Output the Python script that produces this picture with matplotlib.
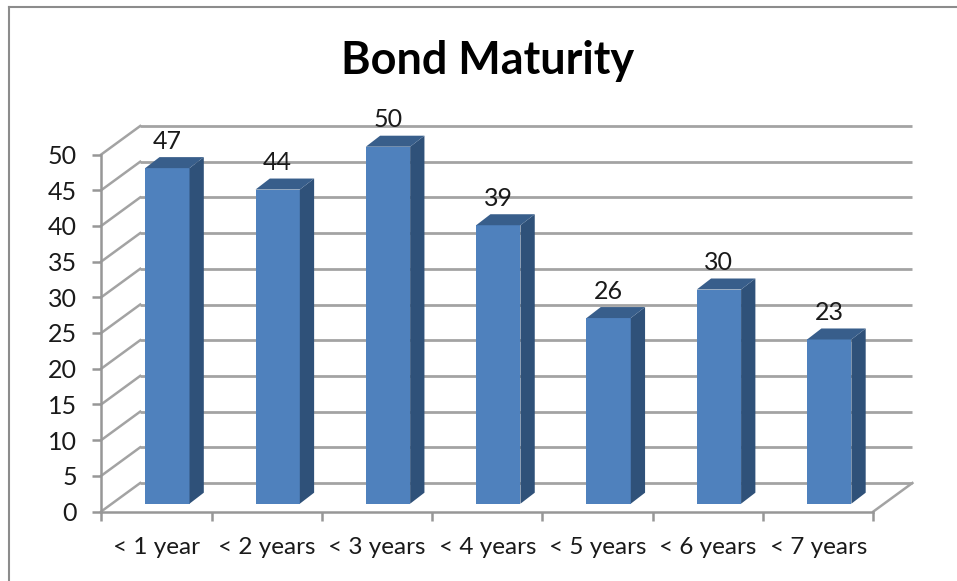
import matplotlib
matplotlib.use("Agg")
import matplotlib.pyplot as plt
from matplotlib.lines import Line2D
from matplotlib.patches import Polygon
import numpy as np

plt.rcParams['font.family'] = ['Lato', 'DejaVu Sans']

# Chart data
categories = ["< 1 year", "< 2 years", "< 3 years", "< 4 years",
              "< 5 years", "< 6 years", "< 7 years"]
values = [47, 44, 50, 39, 26, 30, 23]
y_ticks = list(range(0, 55, 5))
title = "Bond Maturity"

W, H = 957, 581
FRONT = "#4F81BD"
SIDE = "#2F5179"
TOP = "#385E8B"
GRID = "#A3A3A3"
AXIS = "#979797"
TEXT = "#1A1A1A"

fig = plt.figure(figsize=(W / 100, H / 100), dpi=100, facecolor="white")

# Axes span the front plane of the 3-D box
left, right, bottom, top = 101.2, 873.4, 511.5, 154.5
ax = fig.add_axes([left / W, 1 - bottom / H, (right - left) / W, (bottom - top) / H])
ax.set_xlim(0, len(categories))
ax.set_ylim(0, 50)
ax.patch.set_visible(False)

# Pixel-to-data scale factors for the oblique projection
px_x = len(categories) / (right - left)
px_y = 50 / (bottom - top)
wall_dx, wall_dy = 39 * px_x, 28.5 * px_y

# Back wall gridlines and the slanted connectors on the side wall
for t in y_ticks:
    ax.plot([wall_dx, len(categories) + wall_dx], [t + wall_dy] * 2,
            color=GRID, lw=2.0, clip_on=False, zorder=1, solid_capstyle="butt")
    ax.plot([0, wall_dx], [t, t + wall_dy],
            color=GRID, lw=1.8, clip_on=False, zorder=1)

# Right edge of the floor
ax.plot([len(categories), len(categories) + wall_dx], [0, wall_dy],
        color=GRID, lw=1.8, clip_on=False, zorder=1)

# Bars: front face, side face and top face, raised off the floor by the depth offset
bar_w = 44.3 * px_x
bar_dx, bar_dy = 14.3 * px_x, 11 * px_y
floor_x = 11 * px_x
floor_y = 7.8 * px_y
for i, v in enumerate(values):
    x0 = i + 0.5 + floor_x - bar_w / 2
    x1 = x0 + bar_w
    y0 = floor_y
    y1 = v + floor_y
    ax.bar(x0, v, width=bar_w, bottom=y0, align="edge",
           color=FRONT, linewidth=0, zorder=3, clip_on=False)
    ax.add_patch(Polygon([(x1, y0), (x1 + bar_dx, y0 + bar_dy),
                          (x1 + bar_dx, y1 + bar_dy), (x1, y1)],
                         closed=True, fc=SIDE, ec="none", zorder=3, clip_on=False))
    ax.add_patch(Polygon([(x0, y1), (x1, y1), (x1 + bar_dx, y1 + bar_dy),
                          (x0 + bar_dx, y1 + bar_dy)],
                         closed=True, fc=TOP, ec="none", zorder=3, clip_on=False))
    ax.text((x0 + x1) / 2, y1 + 27 * px_y, str(v), ha="center", va="center",
            fontsize=18, color=TEXT, zorder=4)

# Front axes
for name in ("top", "right"):
    ax.spines[name].set_visible(False)
for name in ("left", "bottom"):
    ax.spines[name].set_color(AXIS)
    ax.spines[name].set_linewidth(1.8)
    ax.spines[name].set_zorder(2)

ax.set_yticks(y_ticks)
ax.set_yticklabels([str(t) for t in y_ticks], fontsize=18, color=TEXT)
ax.set_xticks(np.arange(len(categories) + 1))
ax.set_xticklabels([])
ax.set_xticks(np.arange(len(categories)) + 0.5, minor=True)
ax.set_xticklabels(categories, minor=True, fontsize=17.5, color=TEXT)
ax.tick_params(axis="y", length=6.5, width=1.8, color=AXIS, pad=11)
ax.tick_params(axis="x", which="major", length=6.5, width=1.8, color=AXIS)
ax.tick_params(axis="x", which="minor", length=0, pad=18)

ax.text(0.5, 1 - (61 - top) / (bottom - top), title, transform=ax.transAxes,
        ha="center", va="center", fontsize=32.4, fontweight="bold", color="black")

# Chart-area border along the top and left edges
fig.add_artist(Line2D([8.5 / W, 1], [1 - 7 / H] * 2, color="#8C8C8C", lw=1.5))
fig.add_artist(Line2D([8.5 / W] * 2, [1 - 7 / H, 0], color="#8C8C8C", lw=1.5))

fig.savefig("out.png", dpi=100, facecolor="white")
